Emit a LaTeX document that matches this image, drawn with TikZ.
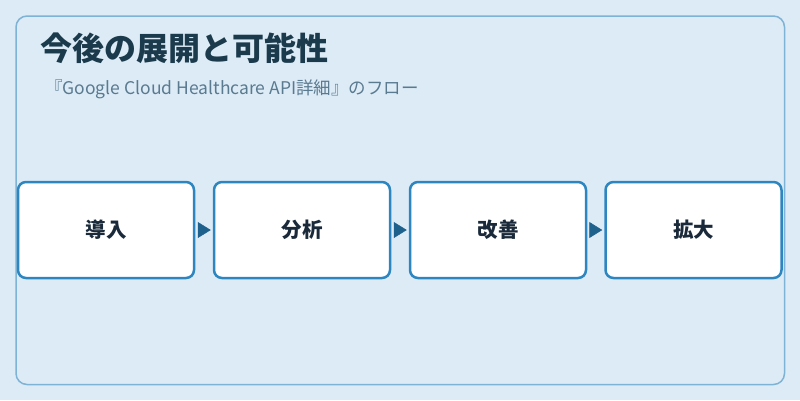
\documentclass[tikz,border=0pt]{standalone}
\usepackage{fontspec}
\setmainfont{Noto Sans CJK JP}
\usetikzlibrary{arrows.meta}
\definecolor{bgc}{HTML}{DCEBF6}
\definecolor{framec}{HTML}{7FB3D5}
\definecolor{boxc}{HTML}{2E86C1}
\definecolor{arrowc}{HTML}{1F618D}
\definecolor{titlec}{HTML}{1B3A4B}
\definecolor{subc}{HTML}{5A7A90}
\definecolor{textc}{HTML}{1B2A3A}
\tikzset{
  stepbox/.style={draw=boxc, line width=2.5pt, fill=white, rounded corners=8pt,
    minimum width=176pt, minimum height=96pt, inner sep=0pt,
    font=\fontsize{20.5pt}{24pt}\selectfont\bfseries, text=textc},
  flow/.style={draw=bgc, line width=0.5pt, shorten <=4pt, shorten >=2pt,
    -{Triangle[color=arrowc, length=13pt, width=16pt]}}
}
\begin{document}
\begin{tikzpicture}[x=1pt,y=-1pt]
\useasboundingbox (0,0) rectangle (800,400);
\fill[bgc] (0,0) rectangle (800,400);
\draw[framec, line width=1.5pt, rounded corners=11pt] (16,16) rectangle (784.5,384.5);
\node[anchor=west, inner sep=0pt, text=titlec, font=\fontsize{32pt}{36pt}\selectfont\bfseries] (title) at (40,48) {今後の展開と可能性};
\node[anchor=west, inner sep=0pt, text=subc, font=\fontsize{17.5pt}{20pt}\selectfont] (sub) at (45,89) {『Google Cloud Healthcare API詳細』のフロー};
\node[stepbox] (s1) at (106,230) {導入};
\node[stepbox] (s2) at (302,230) {分析};
\node[stepbox] (s3) at (498,230) {改善};
\node[stepbox] (s4) at (693.5,230) {拡大};
\draw[flow] (s1.east) -- (s2.west);
\draw[flow] (s2.east) -- (s3.west);
\draw[flow] (s3.east) -- (s4.west);
\end{tikzpicture}
\end{document}
